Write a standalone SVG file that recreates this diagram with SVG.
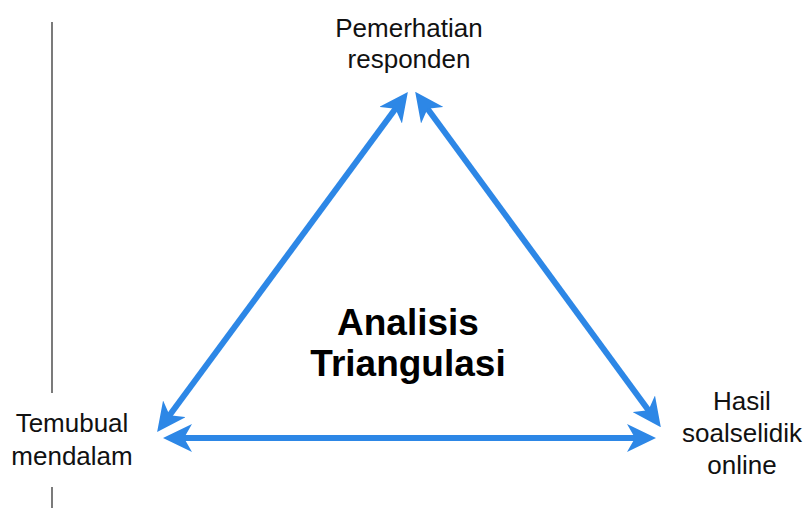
<svg xmlns="http://www.w3.org/2000/svg" width="812" height="508" viewBox="0 0 812 508">
  <style>
    .lbl { font-family: "Liberation Sans", Arial, sans-serif; font-size: 26px; fill: #111; text-anchor: middle; }
    .title { font-family: "Liberation Sans", Arial, sans-serif; font-size: 37px; font-weight: bold; fill: #000; text-anchor: middle; }
    .edge { stroke: #2d87e6; stroke-width: 6; fill: none; marker-start: url(#head); marker-end: url(#head); }
    .rule { stroke: #222; stroke-width: 1.2; }
  </style>
  <defs>
    <marker id="head" viewBox="0 0 29 28" refX="9" refY="14" markerWidth="29" markerHeight="28" markerUnits="userSpaceOnUse" orient="auto-start-reverse">
      <path d="M0,0 L29,14 L0,28 L8,14 Z" fill="#2d87e6"/>
    </marker>
  </defs>
  <rect width="812" height="508" fill="#fff"/>

  <!-- margin rule -->
  <g id="margin-rule">
    <line class="rule" x1="52" y1="22" x2="52" y2="393"/>
    <line class="rule" x1="52" y1="487" x2="52" y2="508"/>
  </g>

  <!-- connectors -->
  <g id="connectors">
    <line class="edge" x1="169" y1="416" x2="396" y2="108"/>
    <line class="edge" x1="427" y1="108" x2="649" y2="411"/>
    <line class="edge" x1="183" y1="438" x2="636" y2="438"/>
  </g>

  <g id="node-pemerhatian">
    <text class="lbl" x="409" y="37">Pemerhatian</text>
    <text class="lbl" x="409" y="68">responden</text>
  </g>

  <g id="node-temubual">
    <text class="lbl" x="72" y="432">Temubual</text>
    <text class="lbl" x="72" y="465">mendalam</text>
  </g>

  <g id="node-soalselidik">
    <text class="lbl" x="742" y="410">Hasil</text>
    <text class="lbl" x="742" y="442">soalselidik</text>
    <text class="lbl" x="742" y="474">online</text>
  </g>

  <g id="node-analisis">
    <text class="title" x="408" y="335">Analisis</text>
    <text class="title" x="408" y="376">Triangulasi</text>
  </g>
</svg>
